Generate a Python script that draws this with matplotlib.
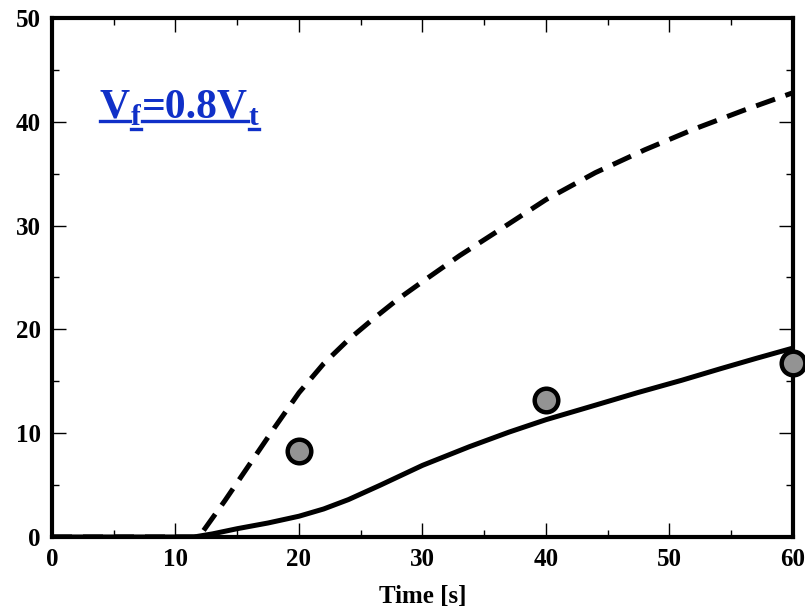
import numpy as np
import matplotlib
matplotlib.use('Agg')
import matplotlib.pyplot as plt
from matplotlib.lines import Line2D

matplotlib.rcParams['font.family'] = ['Liberation Serif', 'DejaVu Serif']
matplotlib.rcParams['font.weight'] = 'bold'

# solid curve
t_solid = [0, 5, 10, 11.5, 13, 15, 17.5, 20, 22, 24, 26.6, 30, 33.8, 37, 40, 44, 47.4, 51, 54.1, 57, 60]
y_solid = [0, 0, 0, 0, 0.3, 0.8, 1.35, 2.0, 2.7, 3.6, 5.0, 6.9, 8.7, 10.1, 11.3, 12.7, 13.9, 15.1, 16.2, 17.2, 18.2]

# dashed curve
t_dash = [0, 5, 10, 11.9, 14, 16, 18, 20, 22, 24, 26, 28, 30, 33, 36, 40, 44, 48, 52, 56, 60]
y_dash = [0, 0, 0, 0, 3.5, 7.0, 10.5, 13.9, 16.7, 19.0, 21.0, 22.9, 24.6, 27.1, 29.4, 32.5, 35.1, 37.3, 39.3, 41.1, 42.8]

# measured points
t_pts = [20, 40, 60]
y_pts = [8.3, 13.2, 16.8]

label_parts = [('V', False), ('f', True), ('=0.8V', False), ('t', True)]
blue = '#1030c8'

fig = plt.figure(figsize=(8.05, 6.08), dpi=100)
ax = fig.add_axes([0.0646, 0.1168, 0.9204, 0.8536])

ax.plot(t_solid, y_solid, color='black', lw=3.6, solid_capstyle='butt', zorder=3)
ax.plot(t_dash, y_dash, color='black', lw=3.6, dashes=(4.0, 2.2), zorder=3)
ax.plot(t_pts, y_pts, 'o', ms=17, mfc='#939393', mec='black', mew=3.2,
        clip_on=False, zorder=4)

ax.set_xlim(0, 60)
ax.set_ylim(0, 50)
ax.set_xticks(np.arange(0, 61, 10))
ax.set_yticks(np.arange(0, 51, 10))
ax.set_xticks(np.arange(0, 61, 5), minor=True)
ax.set_yticks(np.arange(0, 51, 5), minor=True)
ax.tick_params(which='both', direction='in', top=True, right=True, width=1.0,
               labelsize=18, pad=8)
ax.tick_params(which='major', length=10)
ax.tick_params(which='minor', length=5)
for s in ax.spines.values():
    s.set_linewidth(3)
ax.set_xlabel('Time [s]', fontsize=18, fontweight='bold', labelpad=10)

# V_f=0.8V_t, underlined like a word processor label
fig.canvas.draw()
r = fig.canvas.get_renderer()
W, H = fig.bbox.width, fig.bbox.height
x = 100.0
base_main = H - 117
base_sub = H - 125
for s, sub in label_parts:
    yb = base_sub if sub else base_main
    t = fig.text(x / W, yb / H, s, fontsize=21 if sub else 30, color=blue,
                 ha='left', va='baseline', fontweight='bold')
    bb = t.get_window_extent(r)
    uy = (yb - 4) / H
    fig.add_artist(Line2D([x / W, bb.x1 / W], [uy, uy], color=blue, lw=2.4))
    x = bb.x1 + 1

fig.savefig('out.png', dpi=100)
